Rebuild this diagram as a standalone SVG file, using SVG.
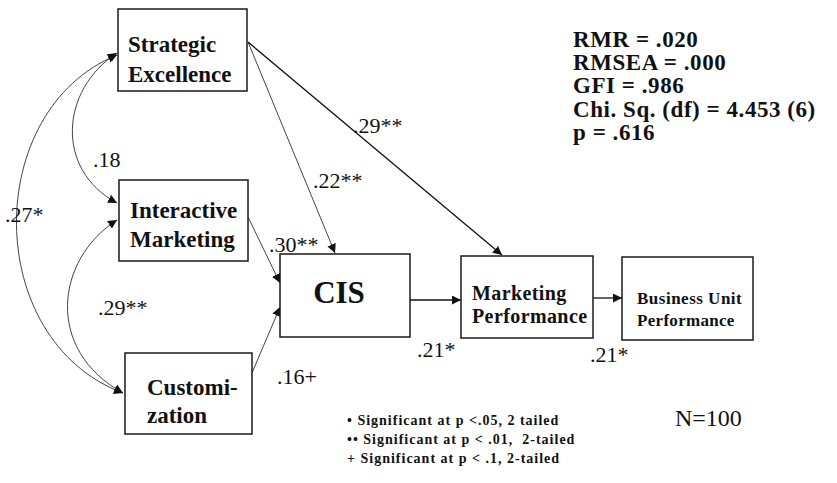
<svg xmlns="http://www.w3.org/2000/svg" width="837" height="483" viewBox="0 0 837 483">
<style>
.box{fill:#fff;stroke:#1a1a1a;stroke-width:1.5}
.lbl{font-family:'Liberation Serif','Times New Roman',Times,serif;font-weight:bold;fill:#111}
.num{font-family:'Liberation Serif','Times New Roman',Times,serif;font-size:22px;fill:#111}
.ln{fill:none;stroke:#444;stroke-width:1}
.ln2{fill:none;stroke:#111;stroke-width:1.3}
.stat{font-family:'Liberation Serif','Times New Roman',Times,serif;font-weight:bold;font-size:23px;letter-spacing:0.55px;fill:#111}
.note{font-family:'Liberation Serif','Times New Roman',Times,serif;font-weight:bold;font-size:14px;letter-spacing:1px;fill:#111;white-space:pre}
</style>
<defs>
<marker id="ah" viewBox="0 0 10 10" refX="10" refY="5" markerWidth="9" markerHeight="9" markerUnits="userSpaceOnUse" orient="auto-start-reverse">
<path d="M0,0 L10,5 L0,10 z" fill="#111"/>
</marker>
</defs>
<g id="connectors">
<path class="ln" d="M117,53 C60,90 55,170 117,203" marker-start="url(#ah)" marker-end="url(#ah)"/>
<path class="ln" d="M117,55 C-18,110 -18,340 123,393" marker-start="url(#ah)" marker-end="url(#ah)"/>
<path class="ln" d="M117,220 C55,260 45,350 123,393" marker-start="url(#ah)" marker-end="url(#ah)"/>
<line class="ln" x1="248" y1="42" x2="335" y2="253" marker-end="url(#ah)"/>
<line class="ln2" x1="248" y1="42" x2="502" y2="255" marker-end="url(#ah)"/>
<line class="ln" x1="248" y1="217" x2="280" y2="283" marker-end="url(#ah)"/>
<line class="ln" x1="252" y1="373" x2="280" y2="307" marker-end="url(#ah)"/>
<line class="ln2" x1="410" y1="300" x2="461" y2="300" marker-end="url(#ah)"/>
<line class="ln2" x1="593" y1="298" x2="622" y2="298" marker-end="url(#ah)"/>
</g>
<g id="strategic-excellence">
<rect class="box" x="118" y="9" width="129" height="82"/>
<text class="lbl" font-size="23" x="128" y="52">Strategic</text>
<text class="lbl" font-size="23" x="128" y="82">Excellence</text>
</g>
<g id="interactive-marketing">
<rect class="box" x="119" y="180" width="129" height="81"/>
<text class="lbl" font-size="23" x="130" y="218">Interactive</text>
<text class="lbl" font-size="23" x="130" y="247">Marketing</text>
</g>
<g id="customization">
<rect class="box" x="125" y="353" width="127" height="81"/>
<text class="lbl" font-size="23" x="147" y="395">Customi-</text>
<text class="lbl" font-size="23" x="147" y="423">zation</text>
</g>
<g id="cis">
<rect class="box" x="280" y="254" width="130" height="83"/>
<text class="lbl" font-size="31" x="339" y="303" text-anchor="middle">CIS</text>
</g>
<g id="marketing-performance">
<rect class="box" x="461" y="256" width="132" height="82"/>
<text class="lbl" font-size="20" letter-spacing="0.4" x="472" y="300">Marketing</text>
<text class="lbl" font-size="20" letter-spacing="0.4" x="472" y="323">Performance</text>
</g>
<g id="business-unit-performance">
<rect class="box" x="622" y="257" width="131" height="83"/>
<text class="lbl" font-size="17" letter-spacing="0.5" x="637" y="304">Business Unit</text>
<text class="lbl" font-size="17" letter-spacing="0.3" x="637" y="326">Performance</text>
</g>
<g id="labels">
<text class="num" x="93" y="167">.18</text>
<text class="num" x="5" y="222">.27*</text>
<text class="num" x="98" y="315">.29**</text>
<text class="num" x="269" y="252">.30**</text>
<text class="num" x="313" y="188">.22**</text>
<text class="num" x="353" y="133">.29**</text>
<text class="num" x="277" y="384">.16+</text>
<text class="num" x="417" y="357">.21*</text>
<text class="num" x="590" y="362">.21*</text>
</g>
<g id="stats">
<text class="stat" x="573" y="47">RMR = .020</text>
<text class="stat" x="573" y="70">RMSEA = .000</text>
<text class="stat" x="573" y="93">GFI = .986</text>
<text class="stat" x="573" y="117">Chi. Sq. (df) = 4.453 (6)</text>
<text class="stat" x="573" y="140">p = .616</text>
<text class="num" style="font-size:24px" x="675" y="426">N=100</text>
</g>
<g id="notes">
<text class="note" x="347" y="425">• Significant at p &lt;.05, 2 tailed</text>
<text class="note" x="347" y="444">•• Significant at p &lt; .01,  2-tailed</text>
<text class="note" x="347" y="463">+ Significant at p &lt; .1, 2-tailed</text>
</g>
</svg>
